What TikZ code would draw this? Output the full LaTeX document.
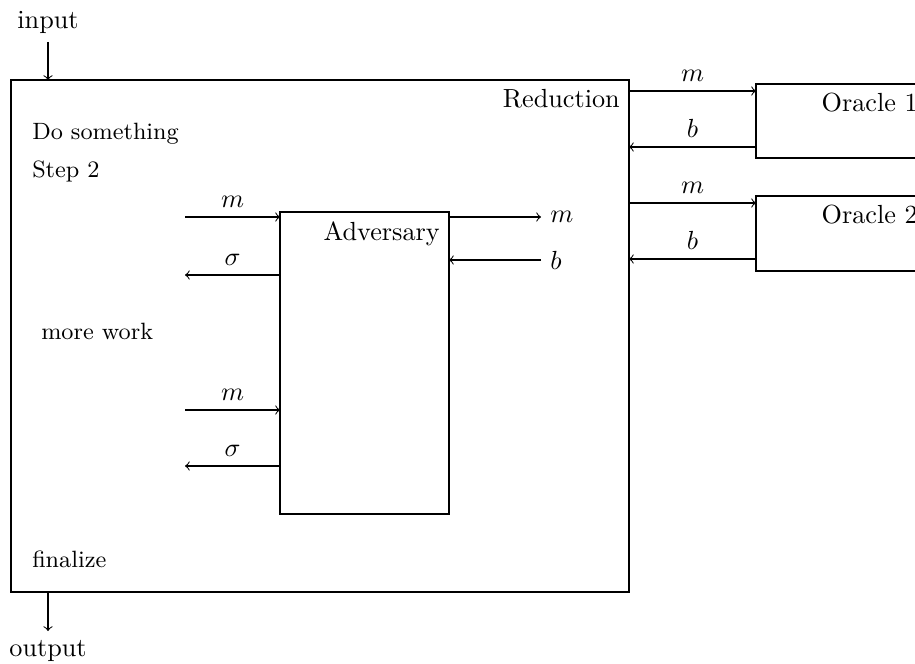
\documentclass[tikz,border=0pt]{standalone}
\begin{document}
\begin{tikzpicture}[x=0.3817pt,y=-0.3817pt,
  box/.style={draw,line width=0.4pt}]
\useasboundingbox (0,0) rectangle (915,664);
\clip (0,0) rectangle (915,664);
% boxes
\draw[box] (11,80) rectangle (629,592);
\node[anchor=north east] (red) at (629,80) {Reduction};
\draw[box] (280,212) rectangle (449,514);
\node[anchor=north east] (adv) at (449,212) {Adversary};
\draw[box] (756,84) rectangle (960,158);
\node[anchor=north east] (or1) at (927,84) {Oracle 1};
\draw[box] (756,196) rectangle (960,271);
\node[anchor=north east] (or2) at (927,196) {Oracle 2};
% texts inside reduction
\node[anchor=west,font=\small] (t1) at (23,134) {Do something};
\node[anchor=west,font=\small] (t2) at (23,171) {Step 2};
\node[anchor=west,font=\small] (t3) at (32,331) {more work};
\node[anchor=west,font=\small] (t4) at (23,559) {finalize};
% input / output
\node (in) at (48,22) {input};
\coordinate (inA) at (48,42);
\coordinate (inB) at (48,80);
\draw[->] (inA) -- (inB);
\coordinate (outA) at (48,592);
\coordinate (outB) at (48,631);
\draw[->] (outA) -- (outB);
\node (out) at (48,651) {output};
% adversary left arrows
\coordinate (l1) at (185,217); \coordinate (l1b) at (280,217);
\draw[->] (l1) -- node[above] {$m$} (l1b);
\coordinate (l2) at (185,275); \coordinate (l2b) at (280,275);
\draw[->] (l2b) -- node[above] {$\sigma$} (l2);
\coordinate (l3) at (185,410); \coordinate (l3b) at (280,410);
\draw[->] (l3) -- node[above] {$m$} (l3b);
\coordinate (l4) at (185,466); \coordinate (l4b) at (280,466);
\draw[->] (l4b) -- node[above] {$\sigma$} (l4);
% adversary right arrows
\coordinate (r1a) at (449,217); \coordinate (r1b) at (541,217);
\draw[->] (r1a) -- (r1b) node[right] {$m$};
\coordinate (r2a) at (449,260); \coordinate (r2b) at (541,260);
\draw[->] (r2b) node[right] {$b$} -- (r2a);
% oracle arrows
\coordinate (o1a) at (629,91); \coordinate (o1b) at (756,91);
\draw[->] (o1a) -- node[above] {$m$} (o1b);
\coordinate (o2a) at (629,147); \coordinate (o2b) at (756,147);
\draw[->] (o2b) -- node[above] {$b$} (o2a);
\coordinate (o3a) at (629,203); \coordinate (o3b) at (756,203);
\draw[->] (o3a) -- node[above] {$m$} (o3b);
\coordinate (o4a) at (629,259); \coordinate (o4b) at (756,259);
\draw[->] (o4b) -- node[above] {$b$} (o4a);
\end{tikzpicture}
\end{document}
